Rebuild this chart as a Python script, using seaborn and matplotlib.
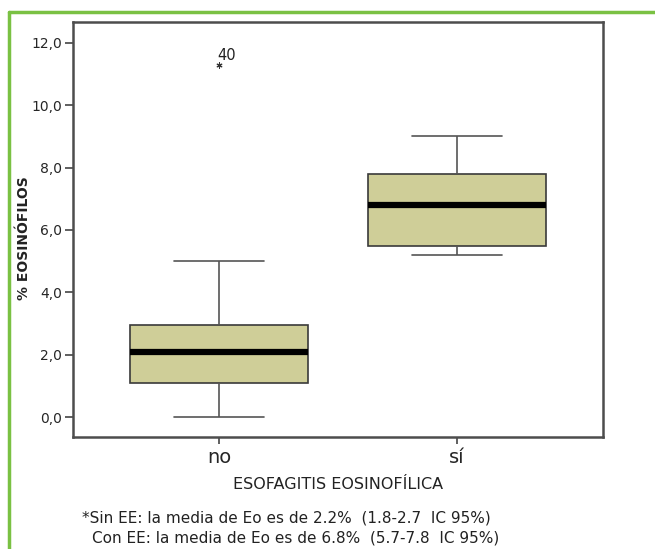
import pandas as pd
import seaborn as sns
import matplotlib.pyplot as plt
from matplotlib.lines import Line2D

# five-number summaries (min, Q1, median, Q3, max)
groups = ['no', 'sí']
no_summary = [0.0, 1.1, 2.1, 2.95, 5.0]
si_summary = [5.2, 5.5, 6.8, 7.8, 9.0]
outlier_group = ['no']
outlier_value = [11.3]
outlier_label = ['40']
ytick_values = [0, 2, 4, 6, 8, 10, 12]
ytick_labels = ['0,0', '2,0', '4,0', '6,0', '8,0', '10,0', '12,0']

sns.set_theme(style='ticks')
plt.rcParams['font.family'] = ['DejaVu Sans']

df = pd.DataFrame({
    'grupo': [groups[0]] * len(no_summary) + [groups[1]] * len(si_summary),
    'eo': no_summary + si_summary,
})
out = pd.DataFrame({'grupo': outlier_group, 'eo': outlier_value})

fig = plt.figure(figsize=(6.55, 5.49), dpi=100)
ax = fig.add_axes([73 / 655, 112 / 549, 530 / 655, 415 / 549])

sns.boxplot(data=df, x='grupo', y='eo', order=groups, ax=ax, width=0.75,
            color='#cfce98', saturation=1, linecolor='#3a3a3a', linewidth=1.2,
            showfliers=False,
            medianprops={'color': 'black', 'linewidth': 4.5},
            whiskerprops={'color': '#555555'}, capprops={'color': '#555555'})
sns.scatterplot(data=out, x='grupo', y='eo', ax=ax, marker=(6, 2, 0), s=14,
                color='#333333', linewidth=0.8, legend=False)
for g, v, lab in zip(outlier_group, outlier_value, outlier_label):
    ax.annotate(lab, (groups.index(g), v), xytext=(-1, 1), textcoords='offset points',
                fontsize=10.5, color='#222222', ha='left', va='bottom')

ax.set_xlim(-0.613, 1.613)
ax.set_ylim(-0.64, 12.67)
ax.set_yticks(ytick_values)
ax.set_yticklabels(ytick_labels)
ax.tick_params(axis='y', labelsize=10, length=6, width=1.2, color='#444444', pad=2)
ax.tick_params(axis='x', labelsize=14, length=5, width=1.2, color='#444444', pad=3)
for sp in ax.spines.values():
    sp.set_visible(True)
    sp.set_linewidth(1.8)
    sp.set_color('#4d4d4d')

ax.set_xlabel('ESOFAGITIS EOSINOFÍLICA', fontsize=11.5, color='#222222', labelpad=7)
ax.set_ylabel('% EOSINÓFILOS', fontsize=10, fontweight='bold', color='#222222')
ax.yaxis.set_label_coords(-0.079, 0.48)

fig.text(82 / 655, 1 - 518 / 549, '*Sin EE: la media de Eo es de 2.2%  (1.8-2.7  IC 95%)',
         fontsize=11, color='#222222', va='center')
fig.text(92 / 655, 1 - 538 / 549, 'Con EE: la media de Eo es de 6.8%  (5.7-7.8  IC 95%)',
         fontsize=11, color='#222222', va='center')

# green frame of the figure (top and left edges)
green = '#7ac143'
fig.add_artist(Line2D([9 / 655, 1], [1 - 12 / 549, 1 - 12 / 549], color=green, linewidth=2.5,
                      transform=fig.transFigure))
fig.add_artist(Line2D([9 / 655, 9 / 655], [0, 1 - 12 / 549], color=green, linewidth=2.5,
                      transform=fig.transFigure))

fig.savefig('out.png', dpi=100)
